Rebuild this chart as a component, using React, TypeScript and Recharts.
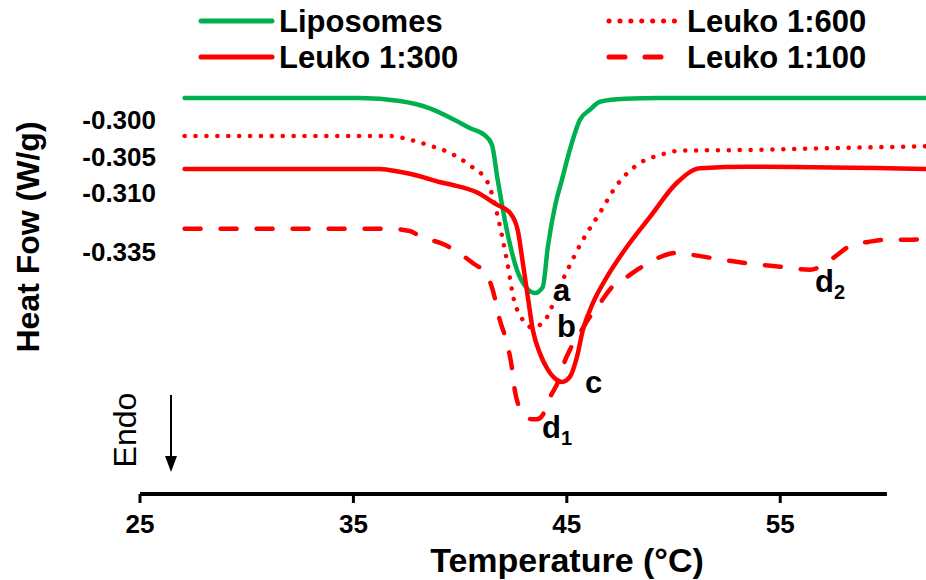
import React from 'react';
import { LineChart, Line, XAxis, YAxis, Legend, ReferenceLine, ReferenceDot } from 'recharts';

const FONT = 'Arial, "Liberation Sans", sans-serif';
const GREEN = '#00B050';
const RED = '#FF0000';

// [temperature °C, heat flow W/g] (curves are offset in the figure)
const liposomes = [
  [27.09, -0.297], [35.29, -0.297], [37.17, -0.2974], [38.58, -0.2984], [39.75, -0.3],
  [40.45, -0.3011], [41.16, -0.3021], [41.49, -0.3034], [41.76, -0.3082], [42.19, -0.3151],
  [42.66, -0.3205], [43.12, -0.323], [43.5, -0.3237], [43.87, -0.3229], [44.11, -0.3174],
  [44.44, -0.3119], [44.77, -0.3082], [45.14, -0.3041], [45.61, -0.3], [46.08, -0.2986],
  [46.55, -0.2975], [47.72, -0.2971], [49.36, -0.297], [61.83, -0.297],
];

const leuko600 = [
  [27.09, -0.3022], [36.7, -0.3022], [37.64, -0.3027], [38.58, -0.3035], [39.51, -0.3045],
  [40.45, -0.3062], [41.3, -0.3086], [41.72, -0.3127], [42.19, -0.3192], [42.56, -0.3251],
  [42.8, -0.3267], [43.36, -0.3284], [43.87, -0.3278], [44.81, -0.3219], [45.7, -0.3167],
  [46.55, -0.3127], [47.35, -0.3089], [48.42, -0.3059], [49.36, -0.3048], [50.3, -0.3042],
  [53.58, -0.3041], [58.28, -0.3038], [61.83, -0.3036],
];

const leuko300 = [
  [27.09, -0.3067], [36.23, -0.3067], [37.17, -0.3071], [38.11, -0.3077], [39.04, -0.3085],
  [39.65, -0.3089], [40.78, -0.3099], [41.72, -0.3116], [42.33, -0.3127], [42.7, -0.3151],
  [42.94, -0.3196], [43.17, -0.3242], [43.41, -0.3288], [43.73, -0.3319], [44.11, -0.3342],
  [44.53, -0.3356], [44.77, -0.3359], [45.14, -0.3352], [45.47, -0.3325], [45.75, -0.3288],
  [46.22, -0.3251], [46.88, -0.3215], [47.81, -0.3174], [48.89, -0.3133], [50.16, -0.3086],
  [51.24, -0.3066], [53.58, -0.3064], [61.83, -0.3067],
];

const leuko100 = [
  [27.09, -0.3149], [36.7, -0.3149], [37.64, -0.3152], [38.11, -0.3159], [39.28, -0.3171],
  [39.89, -0.3181], [40.59, -0.3196], [41.25, -0.3212], [41.53, -0.3233], [41.86, -0.3274],
  [42.19, -0.3305], [42.42, -0.3338], [42.56, -0.337], [42.75, -0.3392], [43.03, -0.3404],
  [43.36, -0.341], [43.6, -0.341], [43.87, -0.3404], [44.11, -0.3386], [44.67, -0.3352],
  [44.81, -0.3338], [45.14, -0.3315], [45.61, -0.3292], [45.98, -0.3274], [46.55, -0.3251],
  [47.11, -0.3229], [47.81, -0.3215], [48.42, -0.3203], [49.27, -0.3189], [50.16, -0.3182],
  [50.91, -0.3185], [53.11, -0.3195], [54.99, -0.3201], [56.4, -0.3205], [56.87, -0.3201],
  [57.48, -0.3189], [58.37, -0.3171], [59.12, -0.3167], [60.01, -0.3164], [60.95, -0.3164],
  [61.83, -0.3163],
];

const xTicks = [25, 35, 45, 55];
const yTickValues = [-0.3, -0.305, -0.31, -0.318];
const yTickLabels = ['-0.300', '-0.305', '-0.310', '-0.335'];

// peak labels
const peakText = ['a', 'b', 'c', 'd', 'd'];
const peakSub = ['', '', '', '1', '2'];
const peakT = [44.35, 44.54, 45.85, 43.84, 56.63];
const peakHF = [-0.3248, -0.3297, -0.3374, -0.3436, -0.3236];

const toRows = (pts: number[][]) => pts.map(([t, hf]) => ({ t, hf }));

const series = [
  { name: 'Liposomes', data: toRows(liposomes), color: GREEN, dash: undefined },
  { name: 'Leuko 1:600', data: toRows(leuko600), color: RED, dash: '0.1 10.8' },
  { name: 'Leuko 1:300', data: toRows(leuko300), color: RED, dash: undefined },
  { name: 'Leuko 1:100', data: toRows(leuko100), color: RED, dash: '16 20' },
];

const txt = { fontFamily: FONT, fontWeight: 'bold' as const, fill: '#000' };

const LegendBox = () => {
  // legend slots: [line x1, line x2, line y, text x, baseline]
  const slots = [
    [201, 272, 21, 279, 32],
    [609, 677, 21, 687, 32],
    [201, 272, 57, 279, 68],
    [609, 667, 57, 687, 68],
  ];
  return (
    <svg width={926} height={80} style={{ display: 'block' }}>
      {series.map((s, i) => {
        const [x1, x2, y, tx, ty] = slots[i];
        return (
          <g key={s.name}>
            <line x1={x1} x2={x2} y1={y} y2={y} stroke={s.color} strokeWidth={5}
              strokeLinecap="round" strokeDasharray={s.dash} />
            <text x={tx} y={ty} fontSize={31} {...txt}>{s.name}</text>
          </g>
        );
      })}
    </svg>
  );
};

const YTick = (props: any) => {
  const { x, y, payload } = props;
  let idx = 0;
  yTickValues.forEach((v, i) => {
    if (Math.abs(v - payload.value) < Math.abs(yTickValues[idx] - payload.value)) idx = i;
  });
  return (
    <text x={x + 16} y={y} dy="0.355em" textAnchor="end" fontSize={26} {...txt}>
      {yTickLabels[idx]}
    </text>
  );
};

const YLabel = () => (
  <g>
    <text x={39} y={237} transform="rotate(-90 39 237)" textAnchor="middle" fontSize={32} {...txt}>
      Heat Fow (W/g)
    </text>
    <text x={136} y={430} transform="rotate(-90 136 430)" textAnchor="middle" fontSize={32}
      fontFamily={FONT} fill="#000">
      Endo
    </text>
    <line x1={171} x2={171} y1={395} y2={460} stroke="#000" strokeWidth={2} />
    <path d="M165,456 L177,456 L171,472 Z" fill="#000" />
  </g>
);

const XLabel = (props: any) => {
  const vb = props.viewBox || { x: 140, y: 494, width: 786, height: 86 };
  const x = vb.x + vb.width / 2 + 34;
  const y = vb.y + vb.height - 8;
  return (
    <text x={x} y={y} textAnchor="middle" fontSize={34} {...txt}>Temperature (°C)</text>
  );
};

const PeakLabel = (props: any) => {
  const { viewBox, text, sub } = props;
  return (
    <text x={viewBox.x} y={viewBox.y} fontSize={31} {...txt}>
      {text}
      {sub ? <tspan fontSize={20} dy={7}>{sub}</tspan> : null}
    </text>
  );
};

export default function App() {
  return (
    <div style={{ position: 'absolute', left: 0, top: 0 }}>
      <LineChart width={926} height={580} margin={{ top: 0, right: 0, bottom: 0, left: 0 }}>
        <Legend verticalAlign="top" content={() => <LegendBox />}
          wrapperStyle={{ left: 0, top: 0, width: 926, height: 80, lineHeight: 0 }} />
        <XAxis type="number" dataKey="t" domain={[25, 61.83]} allowDataOverflow ticks={xTicks}
          height={86} axisLine={false} tickSize={9} tickMargin={12}
          tickLine={{ stroke: '#000', strokeWidth: 3 }}
          tick={{ fontSize: 26, fontWeight: 'bold', fill: '#000', fontFamily: FONT }}
          label={<XLabel />} />
        <YAxis type="number" dataKey="hf" domain={[-0.351233, -0.294521]} allowDataOverflow
          ticks={yTickValues} width={140} axisLine={false} tickLine={false} tickSize={0}
          tickMargin={0} tick={<YTick />} label={<YLabel />} />
        <ReferenceLine segment={[{ x: 25, y: -0.351233 }, { x: 60, y: -0.351233 }]}
          stroke="#000" strokeWidth={4} ifOverflow="visible" />
        {series.map((s) => (
          <Line key={s.name} data={s.data} dataKey="hf" name={s.name} type="monotone"
            stroke={s.color} strokeWidth={4.5} strokeDasharray={s.dash}
            strokeLinecap="round" dot={false} activeDot={false} isAnimationActive={false} />
        ))}
        {peakText.map((p, i) => (
          <ReferenceDot key={i} x={peakT[i]} y={peakHF[i]} r={0} fill="none" stroke="none"
            ifOverflow="visible" label={<PeakLabel text={p} sub={peakSub[i]} />} />
        ))}
      </LineChart>
    </div>
  );
}
